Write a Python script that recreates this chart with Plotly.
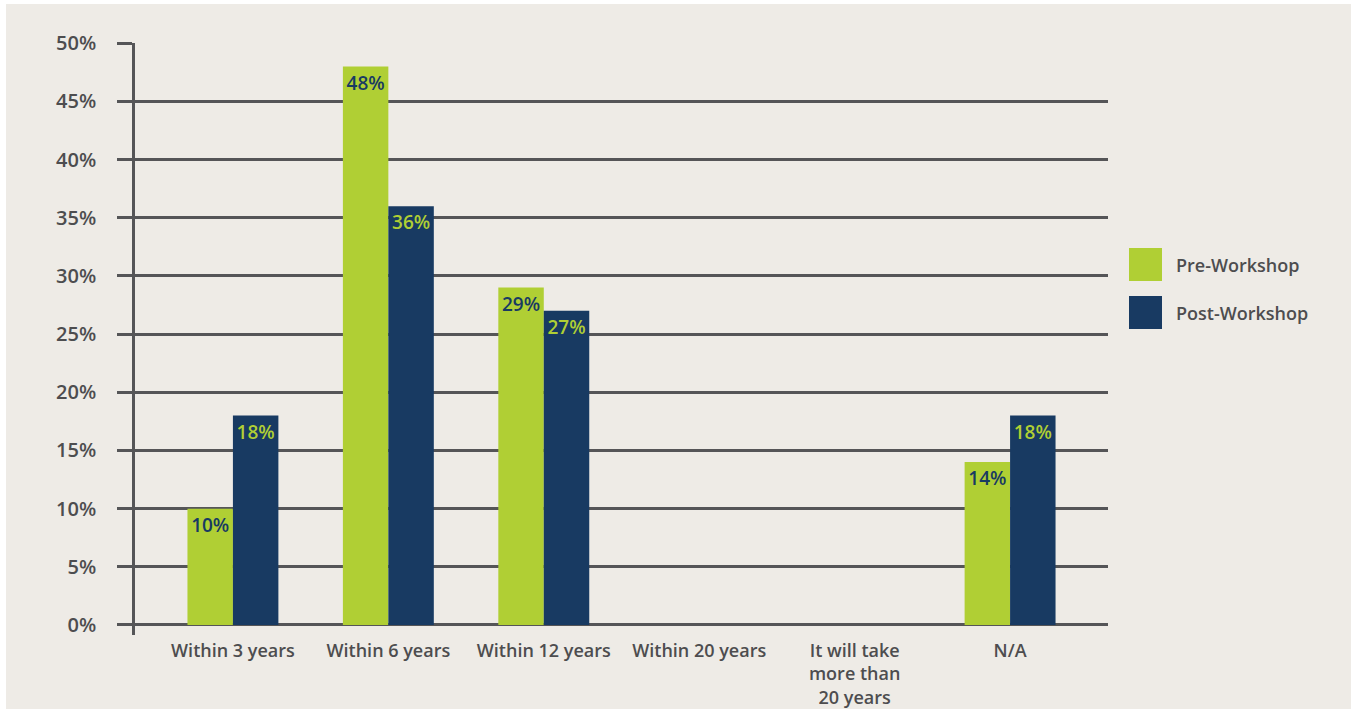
import plotly.graph_objects as go

# Survey answers: expected time frame, share of respondents (%)
categories = [
    "Within 3 years",
    "Within 6 years",
    "Within 12 years",
    "Within 20 years",
    "It will take<br>more than<br>20 years",
    "N/A",
]
pre_workshop = [10, 48, 29, None, None, 14]
post_workshop = [18, 36, 27, None, None, 18]
y_ticks = [0, 5, 10, 15, 20, 25, 30, 35, 40, 45, 50]

GREEN = "#B0CF34"
NAVY = "#183A62"
BEIGE = "#EEEBE6"
GRID = "#555557"
TEXT = "#4D4D4F"
FONT = "Open Sans"
WEIGHT = 600

W, H = 1351, 709
L, R, T, B = 135, 243, 43, 74
PW, PH = W - L - R, H - T - B


def px_x(p):
    return (p - L) / PW


def px_y(p):
    return (H - B - p) / PH


def labels(vals):
    return [f"{v}%" if v is not None else "" for v in vals]


fig = go.Figure()
fig.add_trace(go.Bar(
    x=categories, y=pre_workshop, name="Pre-Workshop",
    marker=dict(color=GREEN, line=dict(width=0)),
    text=labels(pre_workshop), textposition="inside",
    insidetextanchor="end", textangle=0,
    textfont=dict(family=FONT, size=19, color=NAVY, weight=WEIGHT),
    cliponaxis=False,
))
fig.add_trace(go.Bar(
    x=categories, y=post_workshop, name="Post-Workshop",
    marker=dict(color=NAVY, line=dict(width=0)),
    text=labels(post_workshop), textposition="inside",
    insidetextanchor="end", textangle=0,
    textfont=dict(family=FONT, size=19, color=GREEN, weight=WEIGHT),
    cliponaxis=False,
))

# Beige panel with a thin white frame on the top and left edges
shapes = [dict(
    type="rect", xref="paper", yref="paper", layer="below",
    x0=px_x(6), x1=px_x(W + 5), y0=px_y(H + 5), y1=px_y(4),
    fillcolor=BEIGE, line=dict(width=0),
)]

# Legend with large colour swatches
annotations = []
for i, (name, col) in enumerate([("Pre-Workshop", GREEN), ("Post-Workshop", NAVY)]):
    top = 248 + i * 48
    shapes.append(dict(
        type="rect", xref="paper", yref="paper",
        x0=px_x(1129), x1=px_x(1162), y0=px_y(top + 33), y1=px_y(top),
        fillcolor=col, line=dict(width=0),
    ))
    annotations.append(dict(
        xref="paper", yref="paper", x=px_x(1174), y=px_y(top + 17),
        xanchor="left", yanchor="middle", showarrow=False, text=name,
        font=dict(family=FONT, size=18, color=TEXT, weight=WEIGHT),
    ))

fig.update_layout(
    width=W, height=H,
    margin=dict(l=L, r=R, t=T, b=B, pad=0, autoexpand=False),
    paper_bgcolor="white", plot_bgcolor="rgba(0,0,0,0)",
    barmode="group", bargap=0.415, bargroupgap=0,
    showlegend=False,
    uniformtext=dict(minsize=19, mode="show"),
    shapes=shapes, annotations=annotations,
    font=dict(family=FONT, color=TEXT),
    xaxis=dict(
        type="category", range=[-0.63, 5.63], automargin=False,
        showgrid=False, showline=False, ticks="", zeroline=False,
        tickfont=dict(family=FONT, size=18, color=TEXT, weight=WEIGHT),
        ticklabelstandoff=3,
    ),
    yaxis=dict(
        range=[-0.86, 50.02], tickvals=y_ticks, automargin=False,
        ticktext=[f"{v}%" for v in y_ticks],
        showgrid=True, gridcolor=GRID, gridwidth=2.5,
        showline=True, linecolor=GRID, linewidth=2.5,
        ticks="outside", ticklen=15, tickwidth=2.5, tickcolor=GRID,
        zeroline=False,
        tickfont=dict(family=FONT, size=20, color=TEXT, weight=WEIGHT),
        ticklabelstandoff=17,
    ),
)

fig.write_html("out.html")
